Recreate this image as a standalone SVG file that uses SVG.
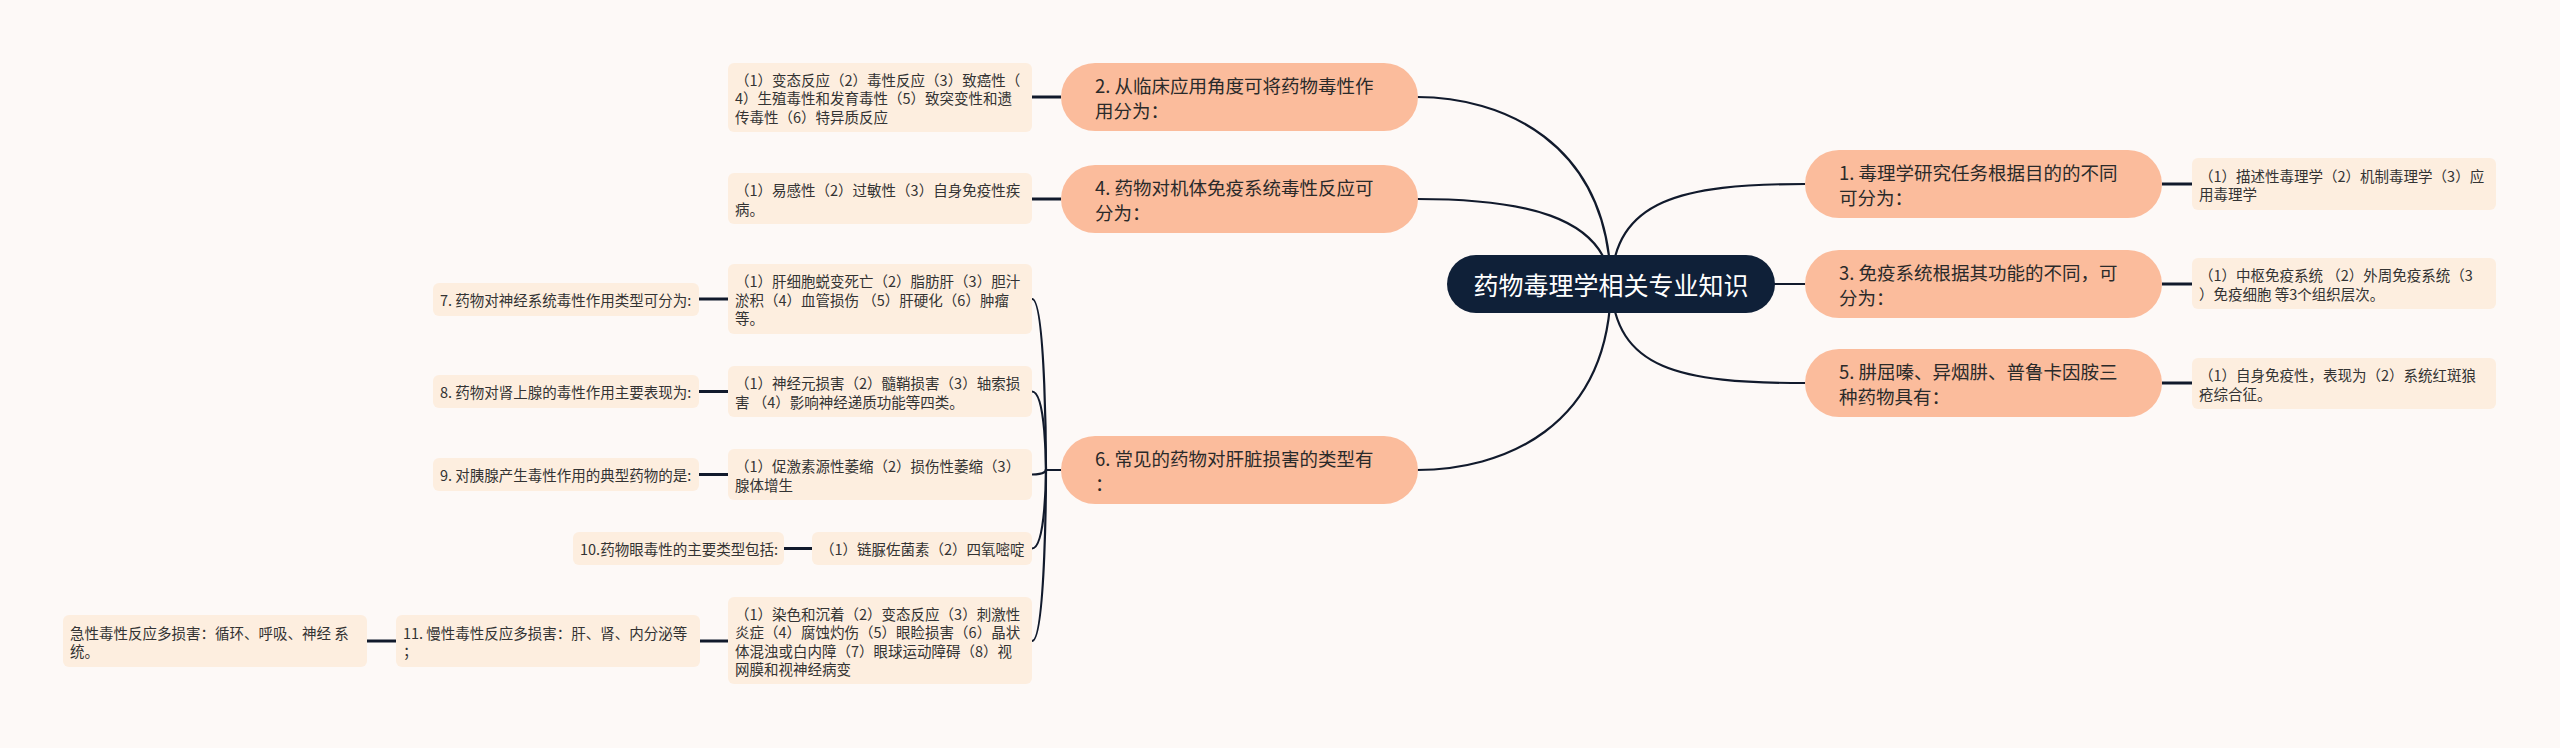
<svg xmlns="http://www.w3.org/2000/svg" width="2560" height="748" viewBox="0 0 2560 748">
<style>
.bg{fill:#fdf9f7}
.root{fill:#0f2038}
.pill{fill:#fbbc9c}
.leaf{fill:#fdeedf}
.rt{font-family:"Noto Sans CJK SC","Noto Sans",sans-serif;font-size:25px;fill:#ffffff;dominant-baseline:central;text-anchor:middle}
.pt{font-family:"Noto Sans CJK SC","Noto Sans",sans-serif;font-size:18.5px;fill:#2a2a2a;dominant-baseline:central}
.lt{font-family:"Noto Sans CJK SC","Noto Sans",sans-serif;font-size:14.5px;fill:#333333;dominant-baseline:central}
.c{fill:none;stroke:#111a2c;stroke-width:2.2}
.s{fill:none;stroke:#111a2c;stroke-width:3}
</style>
<rect class="bg" x="0" y="0" width="2560" height="748"/>
<g id="connectors">
<path class="c" d="M1611,284 C1608,140 1500,97 1417,97"/>
<path class="c" d="M1611,284 C1605,215 1520,199 1417,199"/>
<path class="c" d="M1611,284 C1610,430 1500,470 1417,470"/>
<path class="c" d="M1611,284 C1615,200 1680,184 1805,184"/>
<path class="c" d="M1611,284 L1805,284"/>
<path class="c" d="M1611,284 C1615,370 1680,383 1805,383"/>
<path class="s" d="M1032,97 L1061,97"/>
<path class="s" d="M1032,199 L1061,199"/>
<path class="s" d="M2162,184 L2192,184"/>
<path class="s" d="M2162,284 L2192,284"/>
<path class="s" d="M2162,383 L2192,383"/>
<path class="c" d="M1061,470 L1046,470 C1046,470 1046,299 1032,299"/>
<path class="c" d="M1061,470 L1046,470 C1046,470 1046,391.5 1032,391.5"/>
<path class="c" d="M1061,470 L1046,470 C1046,470 1046,474.5 1032,474.5"/>
<path class="c" d="M1061,470 L1046,470 C1046,470 1046,548.5 1032,548.5"/>
<path class="c" d="M1061,470 L1046,470 C1046,470 1046,641 1032,641"/>
<path class="s" d="M699,299 L728,299"/>
<path class="s" d="M699,391.5 L728,391.5"/>
<path class="s" d="M699,474.5 L728,474.5"/>
<path class="s" d="M784,548.5 L812,548.5"/>
<path class="s" d="M700,641 L728,641"/>
<path class="s" d="M367,641 L396,641"/>
</g>
<g id="root">
<rect class="root" x="1447" y="255" width="328" height="58" rx="29"/>
<text class="rt" x="1611" y="284">药物毒理学相关专业知识</text>
</g>
<g id="n2">
<rect class="pill" x="1061" y="63" width="357" height="68" rx="34"/>
<text class="pt" x="1095" y="85">2. 从临床应用角度可将药物毒性作</text>
<text class="pt" x="1095" y="110">用分为：</text>
</g>
<g id="n4">
<rect class="pill" x="1061" y="165" width="357" height="68" rx="34"/>
<text class="pt" x="1095" y="187">4. 药物对机体免疫系统毒性反应可</text>
<text class="pt" x="1095" y="212">分为：</text>
</g>
<g id="n6">
<rect class="pill" x="1061" y="436" width="357" height="68" rx="34"/>
<text class="pt" x="1095" y="458">6. 常见的药物对肝脏损害的类型有</text>
<text class="pt" x="1095" y="483">：</text>
</g>
<g id="n1">
<rect class="pill" x="1805" y="150" width="357" height="68" rx="34"/>
<text class="pt" x="1839" y="172">1. 毒理学研究任务根据目的的不同</text>
<text class="pt" x="1839" y="197">可分为：</text>
</g>
<g id="n3">
<rect class="pill" x="1805" y="250" width="357" height="68" rx="34"/>
<text class="pt" x="1839" y="272">3. 免疫系统根据其功能的不同，可</text>
<text class="pt" x="1839" y="297">分为：</text>
</g>
<g id="n5">
<rect class="pill" x="1805" y="349" width="357" height="68" rx="34"/>
<text class="pt" x="1839" y="371">5. 肼屈嗪、异烟肼、普鲁卡因胺三</text>
<text class="pt" x="1839" y="396">种药物具有：</text>
</g>
<g id="l2">
<rect class="leaf" x="728" y="63" width="304" height="69" rx="6"/>
<text class="lt" x="735" y="79">（1）变态反应（2）毒性反应（3）致癌性（</text>
<text class="lt" x="735" y="97.5">4）生殖毒性和发育毒性（5）致突变性和遗</text>
<text class="lt" x="735" y="116">传毒性（6）特异质反应</text>
</g>
<g id="l4">
<rect class="leaf" x="728" y="173" width="304" height="51" rx="6"/>
<text class="lt" x="735" y="189.5">（1）易感性（2）过敏性（3）自身免疫性疾</text>
<text class="lt" x="735" y="208">病。</text>
</g>
<g id="l1">
<rect class="leaf" x="2192" y="158" width="304" height="52" rx="6"/>
<text class="lt" x="2199" y="175">（1）描述性毒理学（2）机制毒理学（3）应</text>
<text class="lt" x="2199" y="193.5">用毒理学</text>
</g>
<g id="l3">
<rect class="leaf" x="2192" y="258" width="304" height="51" rx="6"/>
<text class="lt" x="2199" y="274.5">（1）中枢免疫系统 （2）外周免疫系统（3</text>
<text class="lt" x="2199" y="293">）免疫细胞 等3个组织层次。</text>
</g>
<g id="l5">
<rect class="leaf" x="2192" y="358" width="304" height="51" rx="6"/>
<text class="lt" x="2199" y="374.5">（1）自身免疫性，表现为（2）系统红斑狼</text>
<text class="lt" x="2199" y="393">疮综合征。</text>
</g>
<g id="l6a">
<rect class="leaf" x="728" y="264" width="304" height="70" rx="6"/>
<text class="lt" x="735" y="280.5">（1）肝细胞蜕变死亡（2）脂肪肝（3）胆汁</text>
<text class="lt" x="735" y="299">淤积（4）血管损伤 （5）肝硬化（6）肿瘤</text>
<text class="lt" x="735" y="317.5">等。</text>
</g>
<g id="l6b">
<rect class="leaf" x="728" y="366" width="304" height="51" rx="6"/>
<text class="lt" x="735" y="382.5">（1）神经元损害（2）髓鞘损害（3）轴索损</text>
<text class="lt" x="735" y="401">害 （4）影响神经递质功能等四类。</text>
</g>
<g id="l6c">
<rect class="leaf" x="728" y="449" width="304" height="51" rx="6"/>
<text class="lt" x="735" y="465.5">（1）促激素源性萎缩（2）损伤性萎缩（3）</text>
<text class="lt" x="735" y="484">腺体增生</text>
</g>
<g id="l6d">
<rect class="leaf" x="812" y="532" width="220" height="33" rx="6"/>
<text class="lt" x="820" y="548.5">（1）链脲佐菌素（2）四氧嘧啶</text>
</g>
<g id="l6e">
<rect class="leaf" x="728" y="597" width="304" height="87" rx="6"/>
<text class="lt" x="735" y="613">（1）染色和沉着（2）变态反应（3）刺激性</text>
<text class="lt" x="735" y="631.5">炎症（4）腐蚀灼伤（5）眼睑损害（6）晶状</text>
<text class="lt" x="735" y="650">体混浊或白内障（7）眼球运动障碍（8）视</text>
<text class="lt" x="735" y="668.5">网膜和视神经病变</text>
</g>
<g id="n7">
<rect class="leaf" x="433" y="283" width="266" height="33" rx="6"/>
<text class="lt" x="440" y="299.5">7. 药物对神经系统毒性作用类型可分为:</text>
</g>
<g id="n8">
<rect class="leaf" x="433" y="375" width="266" height="33" rx="6"/>
<text class="lt" x="440" y="391.5">8. 药物对肾上腺的毒性作用主要表现为:</text>
</g>
<g id="n9">
<rect class="leaf" x="433" y="458" width="266" height="33" rx="6"/>
<text class="lt" x="440" y="474.5">9. 对胰腺产生毒性作用的典型药物的是:</text>
</g>
<g id="n10">
<rect class="leaf" x="573" y="532" width="211" height="33" rx="6"/>
<text class="lt" x="580" y="548.5">10.药物眼毒性的主要类型包括:</text>
</g>
<g id="n11">
<rect class="leaf" x="396" y="615" width="304" height="52" rx="6"/>
<text class="lt" x="403" y="632">11. 慢性毒性反应多损害：肝、肾、内分泌等</text>
<text class="lt" x="403" y="650.5">；</text>
</g>
<g id="acute">
<rect class="leaf" x="63" y="615" width="304" height="52" rx="6"/>
<text class="lt" x="70" y="632">急性毒性反应多损害：循环、呼吸、神经 系</text>
<text class="lt" x="70" y="650.5">统。</text>
</g>
</svg>
